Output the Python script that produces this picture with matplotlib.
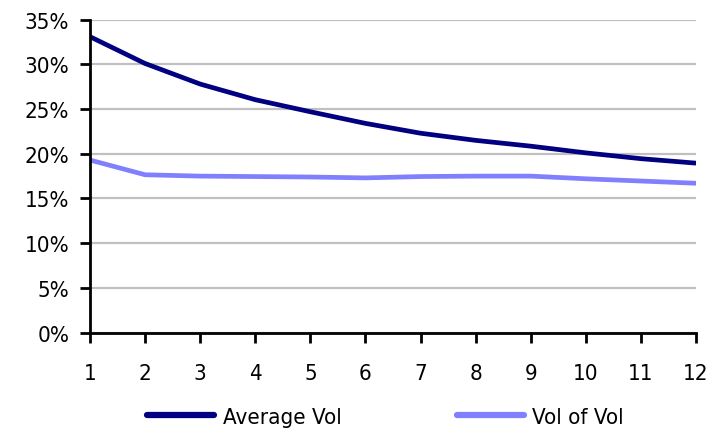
import numpy as np
import matplotlib
matplotlib.use('Agg')
import matplotlib.pyplot as plt
from matplotlib.ticker import PercentFormatter

plt.rcParams['font.family'] = ['Liberation Sans Narrow', 'DejaVu Sans']
plt.rcParams['font.stretch'] = 'condensed'

# term structure by month
months = [1, 2, 3, 4, 5, 6, 7, 8, 9, 10, 11, 12]
avgVol = [33.1, 30.1, 27.8, 26.05, 24.7, 23.4, 22.3, 21.5, 20.85, 20.1, 19.45, 18.95]
volOfVol = [19.3, 17.65, 17.5, 17.45, 17.4, 17.3, 17.45, 17.5, 17.5, 17.2, 16.95, 16.7]
yTicks = [0, 5, 10, 15, 20, 25, 30, 35]

fig = plt.figure(figsize=(7.13, 4.35), dpi=100)
ax = fig.add_axes([0.1262, 0.2333, 0.8500, 0.7191])

ax.plot(months, avgVol, color='#000080', lw=3.4, label='Average Vol', solid_capstyle='butt')
ax.plot(months, volOfVol, color='#8080FF', lw=3.4, label='Vol of Vol', solid_capstyle='butt')

ax.set_xlim(1, 12)
ax.set_ylim(0, 35)
ax.set_xticks(months)
ax.set_yticks(yTicks)
ax.yaxis.set_major_formatter(PercentFormatter(decimals=0))
ax.yaxis.grid(True, color='#C0C0C0', lw=1.6)
ax.set_axisbelow(True)

for s in ['top', 'right']:
    ax.spines[s].set_visible(False)
for s in ['left', 'bottom']:
    ax.spines[s].set_linewidth(2.0)
    ax.spines[s].set_color('black')
ax.tick_params(axis='both', direction='out', length=7, width=2.0, labelsize=16)
ax.tick_params(axis='x', pad=15)
ax.tick_params(axis='y', pad=8)

leg = fig.legend(loc='center left', bbox_to_anchor=(147 / 713, 0.039), ncol=2, frameon=False,
                 fontsize=16, handlelength=3.0, handletextpad=0.4, columnspacing=5.2,
                 borderpad=0, borderaxespad=0)
for h in leg.get_lines():
    h.set_linewidth(4.5)
    h.set_solid_capstyle('round')

plt.savefig('out.png', dpi=100)
